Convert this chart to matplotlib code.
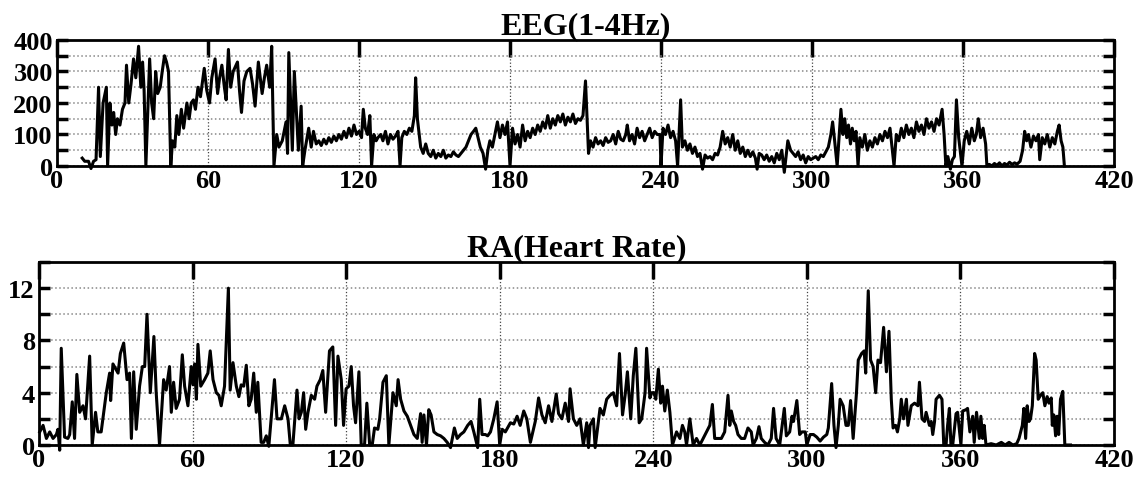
import matplotlib
matplotlib.use('Agg')
import matplotlib.pyplot as plt
from matplotlib.ticker import MultipleLocator

plt.rcParams['font.family'] = 'Liberation Serif'
plt.rcParams['font.weight'] = 'bold'
plt.rcParams['font.size'] = 19

# EEG(1-4Hz) : time (s) / value
eeg_t = [
    10, 11, 12.5, 13.5, 14.5, 15.5, 16.5, 17.2, 18.3, 19.6,
    20.1, 21, 21.8, 22.5, 23.3, 24, 25, 26, 27, 27.6,
    28.5, 29.4, 30.4, 31.3, 32.4, 33.3, 34, 34.6, 35.3, 36.8,
    37.6, 38.4, 39.2, 40, 41, 41.8, 42.7, 43.5, 44.3, 45.2,
    45.9, 46.8, 47.6, 48.4, 49.4, 50.3, 51.6, 52.5, 53.3, 54.2,
    55, 56, 57, 58.5, 59.5, 60.6, 61.5, 62.8, 63.8, 64.6,
    65.5, 66.5, 67.2, 68.1, 69, 70, 71.7, 72.5, 73.3, 74.3,
    75.4, 76.7, 77.7, 78.7, 80, 81.5, 82.4, 83.3, 84.5, 85.3,
    86.2, 87.3, 88.2, 89.5, 91, 91.6, 92.1, 93.5, 94.3, 95.9,
    97, 97.6, 98.5, 100, 101, 101.9, 103, 104, 105, 106,
    107, 108, 109, 110, 111, 112, 113, 114, 115, 116,
    117, 118, 119, 120, 121, 121.7, 122.5, 123.4, 124.3, 125,
    125.9, 126.8, 127.5, 128.6, 129.5, 130.5, 131.5, 132.5, 133.5, 134.5,
    135.5, 136.3, 137, 138, 139, 140, 141, 142, 142.5, 143.2,
    144.5, 145.5, 146.5, 147.5, 148.5, 149.5, 150.5, 151.5, 152.5, 153.5,
    154.5, 155.5, 156.5, 157.5, 158.5, 159.5, 160.5, 161.5, 162.5, 163.5,
    164.5, 165.5, 166.4, 167.3, 168.2, 169.3, 170.3, 171.2, 172, 173,
    174, 175, 176, 177, 178, 179, 180, 181, 182, 183,
    184, 185, 186, 187, 188, 189, 190, 191, 192, 193,
    194, 195, 196, 197, 198, 199, 200, 201, 202, 203,
    204, 205, 206, 207, 208, 209, 210, 211.2, 212, 213,
    214, 215, 216, 217, 218, 219, 220, 221, 222, 223,
    224, 225, 226, 226.6, 227.5, 228.5, 229.5, 230.5, 231.5, 232.5,
    233.5, 234.5, 235.5, 236.5, 237.5, 238.5, 239.6, 240, 240.8, 241.8,
    242.8, 243.8, 244.8, 245.8, 246.6, 247.8, 248.5, 249.5, 250.5, 251.5,
    252.5, 253.5, 254.5, 255.5, 256.5, 257.5, 258.5, 259.5, 260.5, 261.5,
    262.5, 263.5, 264.5, 265.5, 266.5, 267.5, 268.5, 269.5, 270.5, 271.5,
    272.5, 273.5, 274.5, 275.5, 276.5, 277.5, 278.2, 279, 280, 281,
    282, 283, 284, 285, 286, 287, 288, 289, 290.4, 291.5,
    292.5, 293.5, 294.5, 295.5, 296.5, 297.5, 298.5, 299.5, 300.5, 301.5,
    302.5, 303.5, 304.5, 305.5, 306.5, 307.5, 308.2, 309, 310, 311.5,
    312.3, 313, 313.8, 314.5, 315.3, 316, 316.8, 317.5, 318.3, 319,
    320, 321, 322, 323, 324, 325, 326, 327, 328, 329,
    330, 331, 332.6, 333.5, 334.5, 335.5, 336.5, 337.5, 338.5, 339.5,
    340.5, 341.5, 342.5, 343.5, 344.5, 345.5, 346.5, 347.5, 348.5, 349.5,
    350.5, 351.7, 352.5, 353.2, 354, 355, 355.8, 356.6, 357.4, 358.3,
    359.6, 360.5, 361.5, 362.5, 363.5, 364.5, 365.3, 366.1, 367, 368,
    369, 369.5, 370.5, 371.5, 372.5, 373.5, 374.5, 375.5, 376.5, 377.5,
    378.5, 379.5, 380.5, 381.5, 382.7, 383.7, 384.5, 385.3, 386, 387,
    388, 389, 390, 390.5, 391.5, 392.5, 393.5, 394.5, 395.5, 396.5,
    397.5, 398.2, 399, 399.7, 400.3,
]
eeg_v = [
    25, 15, 15, -8, 15, 20, 250, 30, 200, 250,
    0, 200, 130, 170, 100, 150, 130, 180, 200, 320,
    200, 260, 340, 280, 380, 250, 330, 240, 0, 340,
    200, 150, 300, 230, 250, 300, 350, 330, 300, 0,
    80, 60, 160, 100, 180, 120, 200, 150, 200, 210,
    180, 250, 220, 310, 240, 200, 280, 340, 230, 280,
    320, 250, 210, 370, 250, 300, 330, 240, 170, 270,
    300, 310, 260, 190, 330, 230, 280, 320, 250, 380,
    0, 100, 60, 80, 140, 40, 360, 50, 300, 50,
    190, 0, 50, 120, 60, 110, 70, 80, 65, 85,
    70, 90, 75, 95, 80, 100, 85, 110, 90, 120,
    95, 130, 100, 110, 90, 180, 120, 100, 160, 0,
    100, 80, 90, 100, 80, 110, 70, 100, 85, 95,
    110, 0, 90, 110, 100, 120, 110, 160, 280, 150,
    60, 40, 70, 40, 30, 50, 25, 40, 30, 50,
    25, 35, 30, 45, 35, 30, 40, 50, 60, 80,
    100, 110, 120, 90, 60, 40, -10, 50, 80, 60,
    100, 140, 90, 130, 100, 140, 0, 120, 70, 100,
    60, 130, 80, 110, 90, 120, 100, 130, 110, 140,
    120, 160, 120, 150, 130, 160, 140, 165, 130, 155,
    140, 165, 135, 150, 145, 160, 270, 40, 80, 60,
    90, 70, 80, 65, 90, 75, 80, 100, 70, 110,
    85, 80, 100, 130, 80, 100, 70, 120, 90, 110,
    80, 100, 120, 90, 110, 100, 100, 0, 120, 100,
    130, 90, 110, 80, 0, 210, 60, 80, 50, 70,
    40, 60, 30, 40, -10, 35, 25, 30, 20, 40,
    35, 60, 110, 70, 90, 60, 100, 50, 80, 40,
    60, 30, 50, 30, 45, 25, -10, 40, 35, 20,
    35, 15, 30, 10, 40, 20, 50, -20, 80, 50,
    40, 30, 45, 20, 35, 10, 30, 20, 25, 30,
    20, 35, 30, 45, 60, 100, 140, 80, 0, 180,
    100, 150, 90, 130, 70, 120, 80, 110, 0, 90,
    60, 100, 50, 80, 60, 90, 70, 100, 80, 110,
    90, 120, 0, 100, 80, 120, 90, 130, 100, 120,
    90, 140, 110, 130, 100, 150, 120, 140, 110, 150,
    130, 180, 100, 0, 30, -10, 20, 30, 210, 90,
    0, 80, 110, 70, 120, 80, 100, 150, 90, 120,
    70, 0, 5, 0, 8, 2, 10, 0, 8, 3,
    12, 5, 10, 6, 15, 50, 110, 80, 100, 60,
    95, 80, 100, 20, 90, 70, 100, 60, 90, 70,
    110, 130, 80, 60, 0,
]

# RA(Heart Rate) : time (s) / value
ra_t = [
    0.3, 1.6, 2.9, 4.2, 5.5, 6.8, 7.4, 8.1, 8.7, 10,
    11.3, 12, 13, 13.9, 14.8, 15.9, 17.2, 18.2, 19.8, 20.8,
    22.1, 23, 24.3, 26.3, 27.6, 28, 28.9, 30.9, 31.8, 33.1,
    34.4, 35.4, 36.1, 37, 38, 39.3, 40.4, 41.3, 42.2, 43.5,
    44.9, 45.8, 47.1, 48.7, 49.7, 51, 51.7, 52.6, 53.6, 54.9,
    56, 56.9, 58.2, 59.5, 60.2, 60.8, 61.5, 62.1, 63.2, 64.7,
    66, 66.9, 68, 69.3, 70.3, 71.2, 72.5, 74, 74.7, 75.8,
    77.1, 78.1, 79, 80, 81, 82, 82.9, 83.9, 84.9, 85.5,
    86.8, 87.8, 88.8, 89.8, 92, 93, 94.7, 96, 97.3, 98.2,
    99.2, 100.8, 101.6, 102.5, 103.4, 104.2, 105.1, 106.4, 107.7, 108.6,
    109.9, 110.9, 112, 113.5, 114.8, 115.9, 116.8, 118.1, 119, 120,
    121.1, 122, 122.9, 123.7, 125, 125.9, 127.2, 128.1, 129.2, 130.2,
    131.1, 132.4, 133.1, 134.4, 135.7, 136.7, 138.3, 139.6, 140.3, 141.3,
    142.6, 143.9, 145.2, 146.5, 147.8, 149.1, 149.7, 150.4, 151.4, 152.3,
    153.2, 154.3, 155.6, 156.9, 158.2, 159.5, 160.8, 162.3, 163.4, 164.7,
    166, 167.5, 168.8, 169.9, 171.4, 172.2, 173.1, 174.4, 175.3, 176.4,
    177.7, 179, 180, 181, 182.2, 184.2, 185.5, 186.8, 188, 189.4,
    190.6, 192, 193.9, 195.2, 196.5, 197.8, 199.1, 200.4, 202.1, 203,
    204.3, 205.6, 206.9, 207.5, 208.8, 210.1, 211.4, 212.7, 214, 214.7,
    215.3, 216.6, 217.3, 219.2, 220.5, 221.8, 223.1, 224.4, 225.7, 226.8,
    228, 229, 229.9, 231.2, 232.2, 233.2, 234.5, 235.5, 236.8, 237.4,
    238.7, 239.4, 240.3, 241, 242, 242.9, 243.6, 244.5, 245.5, 246.5,
    247.5, 249.1, 250.4, 251.4, 252.3, 253, 254.3, 255.6, 256.9, 258.2,
    259.5, 260.8, 262.1, 263.1, 264, 265.3, 266.6, 267.9, 269.2, 269.9,
    270.5, 271.4, 272.2, 273.1, 274.4, 275.7, 277, 278.3, 279, 280.3,
    281.3, 282.2, 283.5, 284.8, 286.1, 287, 288, 289.4, 291.2, 292,
    293.3, 294.2, 294.8, 296.1, 297.2, 298.1, 299.4, 300, 301.3, 302.6,
    303.9, 305.2, 306.5, 307.8, 308.4, 309.7, 310.6, 311.4, 312.3, 313,
    314.2, 315.3, 316.2, 317.1, 318.1, 319.4, 320.1, 321.4, 322.4, 323,
    324, 324.9, 325.9, 326.9, 327.8, 328.8, 330, 331.1, 332.1, 333,
    333.7, 334.7, 335.4, 336.3, 336.9, 337.8, 338.9, 339.5, 340.8, 342.1,
    343.4, 344, 345, 346, 346.6, 347.9, 348.6, 349.2, 349.9, 350.5,
    351.8, 352.8, 353.5, 354.4, 355, 355.7, 356.3, 357, 358.3, 358.9,
    360.2, 360.9, 362.2, 362.8, 363.7, 364.8, 365.4, 366.3, 367.4, 368,
    368.7, 369.3, 370, 372, 374, 376, 377.5, 379, 380.5, 382,
    382.9, 384.2, 384.8, 385.5, 386.1, 386.8, 387.4, 388.1, 389, 389.6,
    390.4, 391.3, 392.2, 393, 393.9, 394.6, 395.5, 395.9, 396.5, 397.2,
    397.8, 398.4, 399.1, 400, 400.8, 403,
]
ra_v = [
    1.0, 1.5, 0.5, 1.0, 0.5, 0.8, 1.2, -0.4, 7.4, 0.6,
    0.5, 0.8, 3.3, 0.5, 5.4, 2.5, 3.0, 2.0, 6.8, 0,
    2.5, 1.0, 1.0, 4.0, 5.5, 3.4, 6.2, 5.5, 7.0, 7.8,
    5.0, 5.5, 0.5, 5.6, 1.2, 4.5, 6.0, 6.0, 10.0, 4.0,
    8.3, 4.0, 0, 5.0, 4.2, 6.0, 2.5, 4.8, 2.8, 3.5,
    6.9, 4.5, 3.0, 6.0, 4.6, 6.2, 3.5, 7.7, 4.5, 5.0,
    5.5, 7.2, 5.0, 4.0, 3.8, 3.0, 4.5, 12.0, 4.2, 6.3,
    4.5, 3.7, 4.6, 4.5, 6.1, 3.0, 3.5, 5.5, 2.5, 4.8,
    0.2, 0.2, 0.7, -0.1, 5.0, 2.0, 2.0, 3.0, 2.0, 0,
    0, 4.2, 2.0, 2.5, 4.0, 1.2, 2.5, 3.8, 3.5, 4.5,
    5.0, 5.7, 2.5, 7.2, 7.5, 1.5, 6.8, 5.0, 1.5, 4.3,
    4.5, 6.0, 3.0, 1.7, 5.6, 0, 0, 3.2, 0, 0,
    1.3, 1.2, 2.0, 4.8, 5.3, 0, 4.0, 3.0, 5.0, 3.5,
    2.6, 2.2, 1.5, 0.8, 0.5, 2.4, 0.2, 2.3, 0, 2.7,
    2.3, 1.0, 0.8, 0.7, 0.5, 0.2, -0.2, 1.3, 0.5, 0.8,
    1.0, 1.5, 1.8, 1.0, -0.2, 3.5, 0.8, 0.8, 0.7, 1.0,
    2.0, 3.3, 0, 1.2, 1.0, 1.7, 1.6, 2.2, 1.5, 2.6,
    2.0, 0.2, 1.8, 3.6, 2.3, 1.7, 3.0, 1.8, 3.9, 2.4,
    2.0, 3.2, 1.8, 4.3, 2.0, 1.5, 2.0, 0, 1.7, -0.2,
    1.5, 2.0, -0.2, 2.8, 2.3, 3.5, 3.8, 4.0, 3.0, 7.0,
    2.3, 3.8, 5.6, 2.0, 5.3, 7.4, 1.7, 2.0, 4.0, 7.4,
    3.6, 4.0, 4.0, 3.5, 5.8, 3.2, 4.5, 2.6, 4.2, 2.5,
    0, 1.0, 0.5, 1.5, 1.0, 0, 2.0, 0, 0.5, 0,
    0.5, 1.0, 1.5, 3.1, 0.5, 0.5, 0.5, 1.0, 3.8, 1.5,
    2.6, 1.8, 1.5, 0.8, 0.5, 0.5, 1.3, 1.0, 0, 0.5,
    1.4, 0.5, 0.2, 0, 0.5, 2.8, 0.5, 0, 2.8, 0.7,
    1.0, 2.2, 1.8, 3.4, 0.8, 1.0, 1.0, 0, 0.8, 0.8,
    0.6, 0.3, 0.6, 0.8, 1.3, 4.7, 1.5, -0.2, 1.5, 3.5,
    3.0, 1.5, 1.5, 3.4, 0.5, 4.0, 6.5, 7.0, 7.2, 5.5,
    11.8, 6.5, 6.0, 4.0, 6.5, 6.3, 9.0, 5.6, 8.7, 3.5,
    1.3, 1.5, 1.0, 2.0, 3.5, 2.0, 3.5, 1.5, 3.0, 3.2,
    3.0, 4.8, 2.0, 1.8, 2.5, 1.5, 1.8, 0.8, 1.8, 3.5,
    3.8, 3.5, 0, 0, 1.5, 2.8, 0, 0, 2.4, 2.5,
    0, 2.6, 2.7, 2.8, 1.0, 2.2, 0.2, 2.5, 0.5, 2.2,
    0.5, 1.5, 0, 0.1, 0, 0.2, 0, 0.2, 0, 0.1,
    0.5, 1.5, 2.8, 0.5, 3.0, 1.8, 2.0, 3.0, 7.0, 6.5,
    3.5, 3.8, 4.0, 3.0, 3.7, 3.2, 3.6, 1.5, 2.3, 0.7,
    2.2, 0.8, 3.5, 4.1, 0, 0,
]

fig = plt.figure(figsize=(11.43, 4.81), dpi=100)
ax1 = fig.add_axes([0.0499, 0.6528, 0.9247, 0.2620])
ax2 = fig.add_axes([0.0341, 0.0728, 0.9405, 0.3804])


def style(ax, ymax, ymajor, yminor):
    ax.set_xlim(0, 420)
    ax.set_ylim(0, ymax)
    ax.xaxis.set_major_locator(MultipleLocator(60))
    ax.yaxis.set_major_locator(MultipleLocator(ymajor))
    ax.yaxis.set_minor_locator(MultipleLocator(yminor))
    # 격자 : 점선
    ax.grid(axis='x', which='major', ls=':', color='#444444', lw=0.9)
    ax.grid(axis='y', which='both', ls=':', color='#888888', lw=1.1)
    ax.set_axisbelow(True)
    ax.tick_params(axis='x', direction='in', top=True, bottom=False,
                   length=12, width=2.5, pad=2)
    ax.tick_params(axis='y', which='both', direction='in', left=True, right=True,
                   length=8, width=2.5, pad=3)
    for s in ax.spines.values():
        s.set_linewidth(2)


ax1.plot(eeg_t, eeg_v, color='black', lw=2.2, clip_on=False, zorder=3)
style(ax1, 400, 100, 50)
ax1.set_title('EEG(1-4Hz)', fontsize=23, fontweight='bold', pad=5)

ax2.plot(ra_t, ra_v, color='black', lw=2.2, clip_on=False, zorder=3)
style(ax2, 14, 4, 2)
ax2.set_title('RA(Heart Rate)', fontsize=23, fontweight='bold', pad=5)

plt.savefig('out.png', dpi=100)
